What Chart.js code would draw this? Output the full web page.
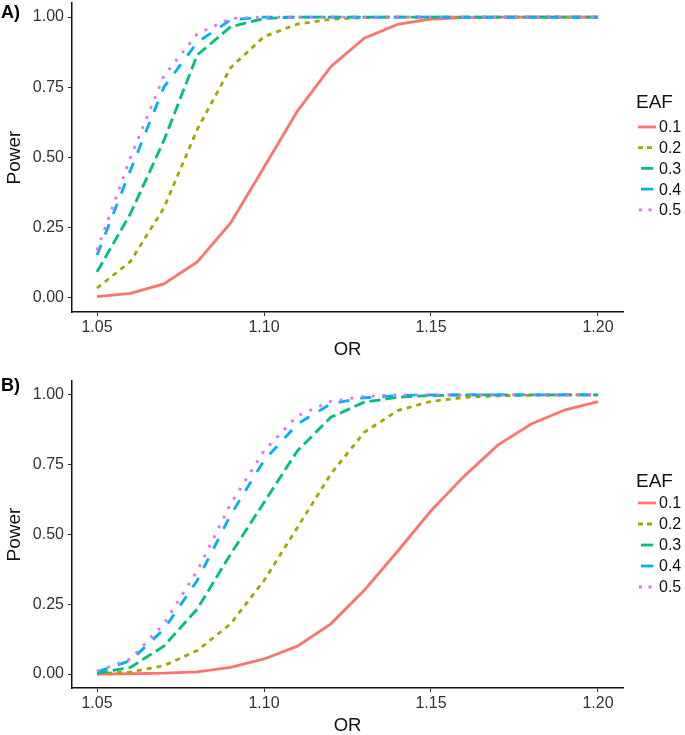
<!DOCTYPE html>
<html>
<head>
<meta charset="utf-8">
<script src="https://cdn.jsdelivr.net/npm/chart.js@4.4.1/dist/chart.umd.min.js"></script>
<style>
  body { margin: 0; background: #fff; width: 685px; height: 735px; position: relative; overflow: hidden; }
  .panel { position: absolute; left: 0; width: 685px; }
  .tag { position: absolute; left: 1px; font: bold 18px "Liberation Sans", Arial, sans-serif; color: #000; line-height: 20px; z-index: 2; }
</style>
</head>
<body>
<div class="tag" style="top:2px">A)</div>
<div class="tag" style="top:375px">B)</div>
<div class="panel" style="top:0;height:368px"><canvas id="chartA"></canvas></div>
<div class="panel" style="top:372px;height:363px"><canvas id="chartB"></canvas></div>
<script>
// ---------------- data ----------------
var orValues = [1.05, 1.06, 1.07, 1.08, 1.09, 1.10, 1.11, 1.12, 1.13, 1.14, 1.15, 1.16, 1.17, 1.18, 1.19, 1.20];
var eafLabels = ["0.1", "0.2", "0.3", "0.4", "0.5"];
var xTicks = [1.05, 1.10, 1.15, 1.20];
var yTicks = [0, 0.25, 0.5, 0.75, 1];

// Panel A
var powerA01 = [0.005, 0.016, 0.05, 0.128, 0.267, 0.465, 0.665, 0.823, 0.925, 0.974, 0.993, 0.998, 1, 1, 1, 1];
var powerA02 = [0.035, 0.13, 0.32, 0.6, 0.82, 0.93, 0.975, 0.992, 0.998, 1, 1, 1, 1, 1, 1, 1];
var powerA03 = [0.093, 0.3, 0.56, 0.865, 0.965, 0.995, 1, 1, 1, 1, 1, 1, 1, 1, 1, 1];
var powerA04 = [0.153, 0.455, 0.75, 0.91, 0.99, 1, 1, 1, 1, 1, 1, 1, 1, 1, 1, 1];
var powerA05 = [0.17, 0.5, 0.79, 0.94, 0.995, 1, 1, 1, 1, 1, 1, 1, 1, 1, 1, 1];

// Panel B
var powerB01 = [0, 0.001, 0.003, 0.008, 0.024, 0.054, 0.1, 0.18, 0.3, 0.44, 0.585, 0.71, 0.82, 0.896, 0.946, 0.976];
var powerB02 = [0.001, 0.007, 0.03, 0.084, 0.18, 0.335, 0.525, 0.717, 0.866, 0.944, 0.977, 0.991, 0.997, 0.999, 1, 1];
var powerB03 = [0.003, 0.024, 0.1, 0.233, 0.43, 0.615, 0.8, 0.92, 0.974, 0.992, 0.998, 1, 1, 1, 1, 1];
var powerB04 = [0.008, 0.048, 0.16, 0.335, 0.57, 0.765, 0.896, 0.968, 0.99, 0.998, 1, 1, 1, 1, 1, 1];
var powerB05 = [0.01, 0.054, 0.18, 0.37, 0.61, 0.8, 0.925, 0.977, 0.995, 1, 1, 1, 1, 1, 1, 1];

// ggplot default hues + linetypes
var lineColors = ["#F8766D", "#A3A500", "#00BF7D", "#00B0F6", "#E76BF3"];
var lineDashes = [[], [5, 5], [11, 5], [11, 11], [2.8, 8]];

var FONT = '"Liberation Sans", Arial, sans-serif';

// legend drawn on the right like ggplot's guide
var eafLegend = {
    id: 'eafLegend',
    afterDraw: function (chart, args, opts) {
        var ctx = chart.ctx;
        ctx.save();
        ctx.fillStyle = '#111';
        ctx.textBaseline = 'middle';
        ctx.textAlign = 'left';
        ctx.font = '19px ' + FONT;
        ctx.fillText('EAF', 636, opts.titleY);
        ctx.font = '16px ' + FONT;
        chart.data.datasets.forEach(function (ds, i) {
            var y = opts.firstY + i * opts.step;
            ctx.strokeStyle = ds.borderColor;
            ctx.lineWidth = 2.8;
            ctx.beginPath();
            if (i === 1) { ctx.setLineDash([5, 4]); ctx.moveTo(638, y); ctx.lineTo(656, y); }
            else if (i === 4) { ctx.setLineDash([3, 6.5]); ctx.moveTo(639, y); ctx.lineTo(656, y); }
            else if (i === 0) { ctx.moveTo(638, y); ctx.lineTo(656, y); }
            else { ctx.moveTo(641, y); ctx.lineTo(653, y); }
            ctx.stroke();
            ctx.setLineDash([]);
            ctx.fillStyle = '#111';
            ctx.fillText(ds.label, 659, y + 1);
        });
        ctx.restore();
    }
};

function makeSeries(list) {
    return list.map(function (vals, i) {
        return {
            label: eafLabels[i],
            data: vals.map(function (v, j) { return { x: orValues[j], y: v }; }),
            borderColor: lineColors[i],
            backgroundColor: lineColors[i],
            borderDash: lineDashes[i],
            borderWidth: 2.8,
            borderCapStyle: 'butt',
            pointRadius: 0,
            tension: 0,
            fill: false,
            order: 4 - i
        };
    });
}

function makeChart(id, series, xHeight, titlePad, padTop, legendPos) {
    return new Chart(document.getElementById(id), {
        type: 'line',
        data: { datasets: makeSeries(series) },
        plugins: [eafLegend],
        options: {
            responsive: true,
            maintainAspectRatio: false,
            animation: false,
            layout: { padding: { top: padTop, right: 62, left: 0, bottom: 0 } },
            plugins: {
                legend: { display: false },
                tooltip: { enabled: false },
                eafLegend: legendPos
            },
            scales: {
                x: {
                    type: 'linear',
                    min: 1.0425,
                    max: 1.2075,
                    afterBuildTicks: function (s) { s.ticks = xTicks.map(function (v) { return { value: v }; }); },
                    afterFit: function (s) { s.height = xHeight; s.paddingLeft = 0; s.paddingRight = 0; },
                    ticks: {
                        autoSkip: false, maxRotation: 0, padding: 2, color: '#333',
                        font: { family: FONT, size: 16 },
                        callback: function (v) { return v.toFixed(2); }
                    },
                    grid: { display: true, drawOnChartArea: false, drawTicks: true, tickLength: 4, color: '#333', lineWidth: 1 },
                    border: { display: true, color: '#111', width: 1.5 },
                    title: { display: true, text: 'OR', color: '#111', font: { family: FONT, size: 18.5, lineHeight: 1 }, padding: { top: 0, bottom: titlePad } }
                },
                y: {
                    min: -0.05,
                    max: 1.05,
                    afterBuildTicks: function (s) { s.ticks = yTicks.map(function (v) { return { value: v }; }); },
                    afterFit: function (s) { s.width = 72; s.paddingTop = 0; s.paddingBottom = 0; },
                    ticks: {
                        autoSkip: false, padding: 4, color: '#333',
                        font: { family: FONT, size: 16 },
                        callback: function (v) { return v.toFixed(2); }
                    },
                    grid: { display: true, drawOnChartArea: false, drawTicks: true, tickLength: 4, color: '#333', lineWidth: 1 },
                    border: { display: true, color: '#111', width: 1.5 },
                    title: { display: true, text: 'Power', color: '#111', font: { family: FONT, size: 19, lineHeight: 1 }, padding: { top: 5, bottom: 0 } }
                }
            }
        }
    });
}

makeChart('chartA', [powerA01, powerA02, powerA03, powerA04, powerA05], 56, 9, 3,
    { titleY: 103, firstY: 127, step: 20.7 });
makeChart('chartB', [powerB01, powerB02, powerB03, powerB04, powerB05], 47, 0, 9,
    { titleY: 110, firstY: 131, step: 21 });
</script>
</body>
</html>
